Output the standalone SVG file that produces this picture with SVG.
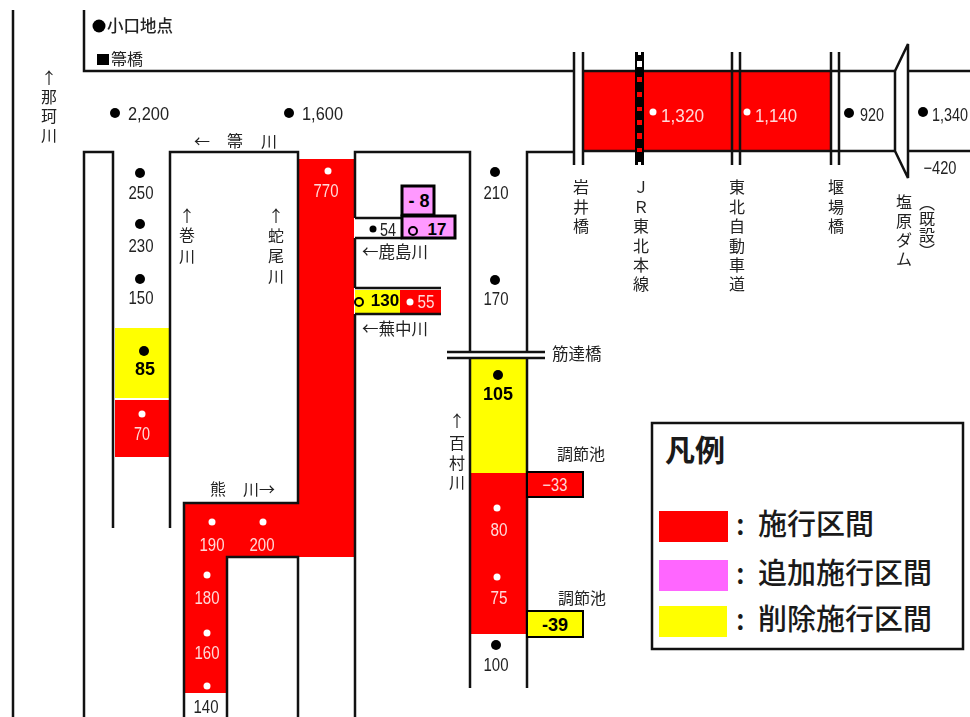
<svg xmlns="http://www.w3.org/2000/svg" width="970" height="717" viewBox="0 0 970 717">
<style>
text{font-family:"Noto Sans CJK JP","Liberation Sans",sans-serif;fill:#222;font-size:16px}
.n{font-family:"Liberation Sans",sans-serif;font-size:18px;text-anchor:middle}
.s{font-family:"Liberation Sans",sans-serif;font-size:18px}
.w{fill:#ffd9d9}
.b{font-family:"Liberation Sans",sans-serif;font-weight:bold;font-size:18px;text-anchor:middle;fill:#000}
.v{text-anchor:middle}
.l{font-size:29px;fill:#1a1a1a;font-weight:500}
.ln{fill:none;stroke:#111;stroke-width:2.5}
.box{stroke:#000;stroke-width:3}
.red{fill:#f00}.yel{fill:#ff0}.pnk{fill:#f9f}
.dk{fill:#000}.wd{fill:#fff}
#values,#labels{filter:url(#gray)}
</style>
<defs><filter id="gray" filterUnits="userSpaceOnUse" x="0" y="0" width="970" height="717"><feOffset dx="0" dy="0"/></filter></defs>
<g id="sections">
<rect class="red" x="584" y="72" width="247" height="79"/>
<rect class="red" x="299" y="159" width="55" height="398"/>
<rect class="red" x="185" y="504" width="114" height="53"/>
<rect class="red" x="185" y="504" width="42" height="189"/>
<rect class="yel" x="115" y="328" width="55" height="70"/>
<rect class="red" x="115" y="400" width="55" height="57"/>
<rect class="yel" x="355" y="290" width="45" height="23"/>
<rect class="red" x="400" y="290" width="41" height="24"/>
<rect class="yel" x="471" y="358" width="55" height="115"/>
<rect class="red" x="470" y="473" width="56" height="161"/>
</g>
<g id="connectors">
<path class="ln" d="M13 10V717M84 10V71H574M583 71H895M908 71H970M84 717V152H113V528M170 528V152H298V503H184V717M227 717V557H298V717M355 717V314M355 288V238M355 218V152H470V353M527 353V152H574M583 151H895M908 151H970M355 218H402M355 238H402M355 288H441M355 314H441M470 358V688M527 358V688M447 352H545M447 358H545"/>
<path class="ln" d="M574 52V165M583 52V165M732 52V165M740 52V165M831 52V165M839 52V165"/>
<path class="ln" d="M895 71L908 44V178L895 151Z" style="fill:#fff"/>
</g>
<g id="jr-line">
<rect class="dk" x="635" y="52" width="9" height="113"/>
<rect class="wd" x="638" y="52" width="3" height="3"/><rect class="wd" x="638" y="162" width="3" height="3"/>
<rect class="wd" x="637" y="61" width="5" height="6"/>
<g class="red"><rect x="637" y="77" width="5" height="5"/><rect x="637" y="92" width="5" height="5"/><rect x="637" y="107" width="5" height="4"/><rect x="637" y="120" width="5" height="5"/><rect x="637" y="133" width="5" height="6"/><rect x="637" y="148" width="5" height="4"/></g>
</g>
<g id="boxes">
<rect id="box-m8" class="pnk box" x="402" y="186" width="32" height="29"/>
<rect id="box-17" class="pnk box" x="402" y="216" width="53" height="22"/>
<rect id="box-m33" class="red box" x="527" y="472" width="56" height="25" style="stroke-width:2"/>
<rect id="box-m39" class="yel box" x="527" y="611" width="56" height="26" style="stroke-width:2"/>
<text class="b" x="419" y="207">- 8</text>
<text class="b" x="437" y="235" style="font-size:17px">17</text>
<circle cx="413" cy="231" r="4" fill="none" stroke="#000" stroke-width="2"/>
<text class="n w" x="555" y="491" textLength="25" lengthAdjust="spacingAndGlyphs">−33</text>
<text class="b" x="555" y="631">-39</text>
</g>
<g id="points">
<g class="dk">
<circle cx="99" cy="26" r="6.5"/><rect x="97" y="54" width="12" height="11"/>
<circle cx="115" cy="113" r="5"/><circle cx="289" cy="113" r="5"/>
<circle cx="140" cy="173" r="5"/><circle cx="140" cy="224" r="5"/><circle cx="140" cy="279" r="5"/>
<circle cx="144" cy="351" r="5"/><circle cx="373" cy="229" r="3.5"/>
<circle cx="495" cy="172" r="5"/><circle cx="495" cy="280" r="5"/><circle cx="498" cy="375" r="5"/><circle cx="496" cy="645" r="5"/>
<circle cx="849" cy="113" r="5"/><circle cx="923" cy="112" r="5"/>
</g>
<g class="wd">
<circle cx="328" cy="171" r="3.5"/><circle cx="142" cy="414" r="3.5"/><circle cx="212" cy="522" r="3.5"/><circle cx="263" cy="522" r="3.5"/>
<circle cx="207" cy="575" r="3.5"/><circle cx="207" cy="633" r="3.5"/><circle cx="207" cy="686" r="3.5"/>
<circle cx="497" cy="508" r="3.5"/><circle cx="497" cy="577" r="3.5"/><circle cx="410" cy="302" r="3.5"/>
<circle cx="653" cy="112" r="3.5"/><circle cx="747" cy="112" r="3.5"/>
</g>
<circle cx="359" cy="302" r="4" fill="none" stroke="#000" stroke-width="2"/>
</g>
<g id="values">
<text class="s" x="128" y="120" textLength="41" lengthAdjust="spacingAndGlyphs">2,200</text>
<text class="s" x="302" y="120" textLength="41" lengthAdjust="spacingAndGlyphs">1,600</text>
<text class="n" x="141" y="199" textLength="25" lengthAdjust="spacingAndGlyphs">250</text>
<text class="n" x="141" y="252" textLength="25" lengthAdjust="spacingAndGlyphs">230</text>
<text class="n" x="141" y="304" textLength="25" lengthAdjust="spacingAndGlyphs">150</text>
<text class="n w" x="326" y="197" textLength="25" lengthAdjust="spacingAndGlyphs">770</text>
<text class="b" x="145" y="375">85</text>
<text class="n w" x="142" y="440" textLength="16" lengthAdjust="spacingAndGlyphs">70</text>
<text class="n" x="388" y="236" textLength="16" lengthAdjust="spacingAndGlyphs">54</text>
<text class="b" x="385" y="306" style="font-size:17px">130</text>
<text class="n w" x="426" y="308" textLength="17" lengthAdjust="spacingAndGlyphs">55</text>
<text class="n" x="496" y="199" textLength="25" lengthAdjust="spacingAndGlyphs">210</text>
<text class="n" x="496" y="305" textLength="25" lengthAdjust="spacingAndGlyphs">170</text>
<text class="b" x="498" y="400">105</text>
<text class="n w" x="499" y="536" textLength="17" lengthAdjust="spacingAndGlyphs">80</text>
<text class="n w" x="499" y="604" textLength="17" lengthAdjust="spacingAndGlyphs">75</text>
<text class="n" x="496" y="671" textLength="25" lengthAdjust="spacingAndGlyphs">100</text>
<text class="n w" x="212" y="551" textLength="25" lengthAdjust="spacingAndGlyphs">190</text>
<text class="n w" x="262" y="551" textLength="25" lengthAdjust="spacingAndGlyphs">200</text>
<text class="n w" x="207" y="604" textLength="25" lengthAdjust="spacingAndGlyphs">180</text>
<text class="n w" x="207" y="659" textLength="25" lengthAdjust="spacingAndGlyphs">160</text>
<text class="n" x="206" y="713" textLength="25" lengthAdjust="spacingAndGlyphs">140</text>
<text class="s w" x="661" y="122" textLength="43" lengthAdjust="spacingAndGlyphs">1,320</text>
<text class="s w" x="755" y="122" textLength="42" lengthAdjust="spacingAndGlyphs">1,140</text>
<text class="n" x="872" y="121" textLength="24" lengthAdjust="spacingAndGlyphs">920</text>
<text class="s" transform="translate(932 121) scale(.8 1)">1,340</text>
<text class="n" x="940" y="174" textLength="33" lengthAdjust="spacingAndGlyphs">−420</text>
</g>
<g id="labels">
<text x="107" y="32" style="font-size:16.5px;font-weight:500">小口地点</text>
<text x="111" y="65">箒橋</text>
<text x="194" y="147">←</text><text x="227" y="147">箒</text><text x="261" y="147">川</text>
<text class="v"><tspan x="49" y="84">↑</tspan><tspan x="49" y="103">那</tspan><tspan x="49" y="122">珂</tspan><tspan x="49" y="141">川</tspan></text>
<text class="v"><tspan x="187" y="222">↑</tspan><tspan x="187" y="241">巻</tspan><tspan x="187" y="262">川</tspan></text>
<text class="v"><tspan x="276" y="222">↑</tspan><tspan x="276" y="242">蛇</tspan><tspan x="276" y="262">尾</tspan><tspan x="276" y="282">川</tspan></text>
<text x="362" y="258" style="font-size:16.5px">←鹿島川</text>
<text x="362" y="335" style="font-size:16.5px">←蕪中川</text>
<text x="552" y="360" style="font-size:16.5px">筋達橋</text>
<text class="v"><tspan x="457" y="427">↑</tspan><tspan x="457" y="449">百</tspan><tspan x="457" y="469">村</tspan><tspan x="457" y="488">川</tspan></text>
<text x="557" y="460">調節池</text>
<text x="558" y="604">調節池</text>
<text x="210" y="495">熊</text><text x="243" y="495">川→</text>
<text class="v"><tspan x="581" y="193">岩</tspan><tspan x="581" y="213">井</tspan><tspan x="581" y="232">橋</tspan></text>
<text class="v"><tspan x="641" y="193">Ｊ</tspan><tspan x="641" y="213">Ｒ</tspan><tspan x="641" y="232">東</tspan><tspan x="641" y="252">北</tspan><tspan x="641" y="271">本</tspan><tspan x="641" y="290">線</tspan></text>
<text class="v"><tspan x="737" y="193">東</tspan><tspan x="737" y="213">北</tspan><tspan x="737" y="232">自</tspan><tspan x="737" y="252">動</tspan><tspan x="737" y="271">車</tspan><tspan x="737" y="290">道</tspan></text>
<text class="v"><tspan x="836" y="193">堰</tspan><tspan x="836" y="213">場</tspan><tspan x="836" y="232">橋</tspan></text>
<text class="v"><tspan x="904" y="208">塩</tspan><tspan x="904" y="227">原</tspan><tspan x="904" y="246">ダ</tspan><tspan x="904" y="265">ム</tspan></text>
<text x="927" y="195" style="writing-mode:vertical-rl">（既設）</text>
</g>
<g id="legend">
<rect x="652" y="423" width="311" height="226" fill="#fff" stroke="#111" stroke-width="2.5"/>
<text x="665" y="461" class="l" style="font-size:30px;font-weight:700">凡例</text>
<rect class="red" x="659" y="511" width="69" height="31"/>
<rect x="659" y="560" width="69" height="31" fill="#f6f"/>
<rect class="yel" x="659" y="606" width="68" height="31"/>
<text x="736" y="535" class="l">:</text><text x="758" y="535" class="l">施行区間</text>
<text x="736" y="584" class="l">:</text><text x="758" y="584" class="l">追加施行区間</text>
<text x="736" y="630" class="l">:</text><text x="758" y="630" class="l">削除施行区間</text>
</g>
</svg>
